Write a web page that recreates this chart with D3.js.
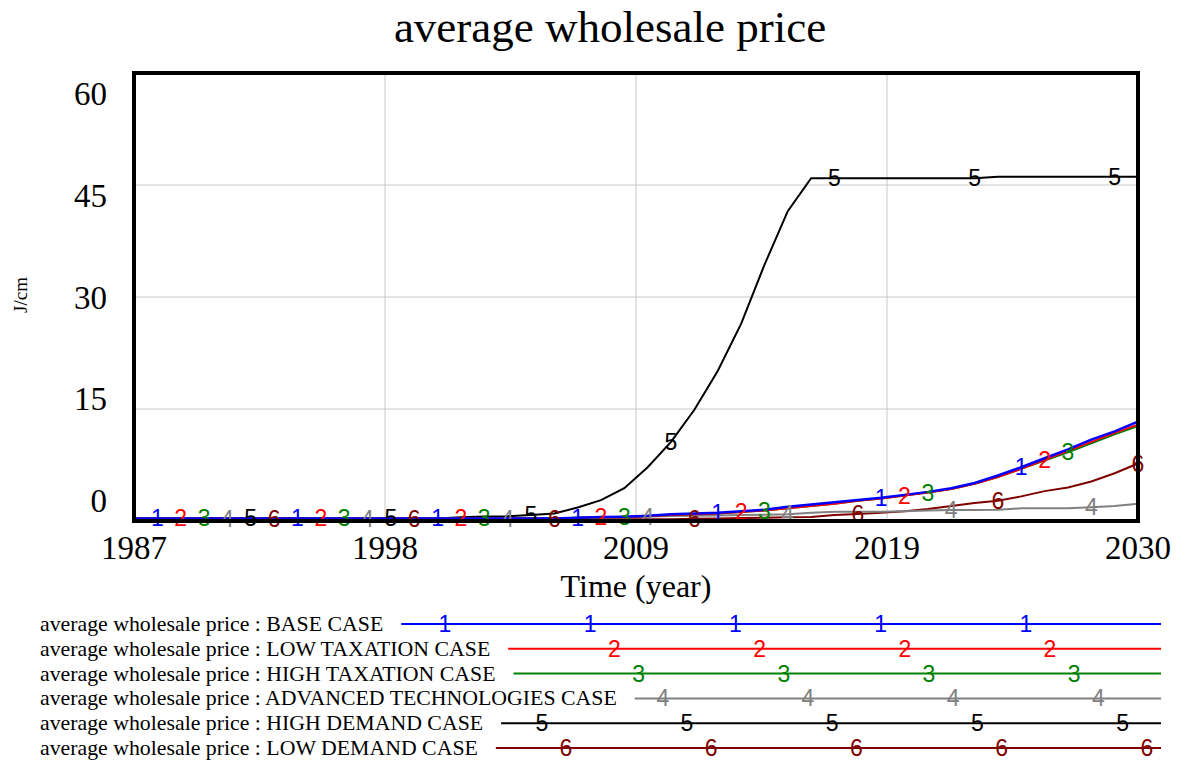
<!DOCTYPE html>
<html>
<head>
<meta charset="utf-8">
<script src="https://cdn.jsdelivr.net/npm/d3@7"></script>
<style>
  body { margin: 0; background: #fff; }
  svg { display: block; }
</style>
</head>
<body>
<div id="chart"></div>
<script>
// time axis (year) and one value list per scenario
var years = d3.range(1987, 2031);

var baseCase = [0.35, 0.35, 0.35, 0.35, 0.35, 0.35, 0.35, 0.35, 0.35, 0.35,
  0.35, 0.35, 0.35, 0.35, 0.35, 0.35, 0.35, 0.35, 0.35,
  0.45, 0.52, 0.58, 0.7, 0.9, 1.0, 1.1, 1.3, 1.5, 1.9,
  2.2, 2.5, 2.8, 3.1, 3.5, 3.9, 4.4, 5.1, 6.1, 7.2,
  8.4, 9.6, 10.9, 12.0, 13.3];
var lowTaxCase = [0.35, 0.35, 0.35, 0.35, 0.35, 0.35, 0.35, 0.35, 0.35, 0.35,
  0.35, 0.35, 0.35, 0.35, 0.35, 0.35, 0.35, 0.35, 0.35,
  0.42, 0.5, 0.55, 0.65, 0.8, 0.9, 1.0, 1.2, 1.4, 1.7,
  2.0, 2.3, 2.7, 3.0, 3.4, 3.8, 4.3, 5.0, 5.9, 7.0,
  8.2, 9.4, 10.6, 11.8, 12.9];
var highTaxCase = [0.35, 0.35, 0.35, 0.35, 0.35, 0.35, 0.35, 0.35, 0.35, 0.35,
  0.35, 0.35, 0.35, 0.35, 0.35, 0.35, 0.35, 0.35, 0.35,
  0.42, 0.5, 0.55, 0.65, 0.8, 0.9, 1.0, 1.2, 1.4, 1.7,
  2.0, 2.3, 2.7, 3.0, 3.4, 3.8, 4.3, 5.0, 5.9, 7.0,
  8.1, 9.2, 10.4, 11.6, 12.7];
var advTechCase = [0.3, 0.3, 0.3, 0.3, 0.3, 0.3, 0.3, 0.3, 0.3, 0.3,
  0.3, 0.3, 0.3, 0.3, 0.3, 0.3, 0.3, 0.3, 0.3,
  0.4, 0.47, 0.55, 0.6, 0.67, 0.7, 0.75, 0.8, 0.85, 0.9,
  1.1, 1.25, 1.25, 1.25, 1.3, 1.4, 1.48, 1.48, 1.5, 1.7,
  1.7, 1.7, 1.85, 2.0, 2.3];
var highDemandCase = [0.35, 0.35, 0.35, 0.35, 0.35, 0.35, 0.35, 0.35, 0.35, 0.35,
  0.35, 0.35, 0.35, 0.35, 0.5, 0.6, 0.65, 0.8, 1.0,
  1.8, 2.8, 4.4, 7.2, 10.6, 14.9, 20.1, 26.4, 34.3, 41.5,
  45.9, 45.9, 45.9, 45.9, 45.9, 45.9, 45.9, 45.9, 46.1, 46.1,
  46.1, 46.1, 46.1, 46.1, 46.1];
var lowDemandCase = [0.25, 0.25, 0.25, 0.25, 0.25, 0.25, 0.25, 0.25, 0.25, 0.25,
  0.25, 0.25, 0.25, 0.25, 0.25, 0.25, 0.25, 0.25, 0.25,
  0.25, 0.25, 0.25, 0.25, 0.25, 0.3, 0.35, 0.4, 0.45, 0.5,
  0.55, 0.8, 0.95, 1.1, 1.3, 1.6, 2.0, 2.4, 2.7, 3.3,
  4.0, 4.5, 5.3, 6.4, 7.7];

var seriesNames = ["BASE CASE", "LOW TAXATION CASE", "HIGH TAXATION CASE",
  "ADVANCED TECHNOLOGIES CASE", "HIGH DEMAND CASE", "LOW DEMAND CASE"];
var seriesValues = [baseCase, lowTaxCase, highTaxCase, advTechCase, highDemandCase, lowDemandCase];
var seriesColors = ["#0000ff", "#ff0000", "#008000", "#808080", "#000000", "#800000"];

var yTicks = [0, 15, 30, 45, 60];
var xTickLabels = ["1987", "1998", "2009", "2019", "2030"];

var width = 1179, height = 761;
var serif = "'Liberation Serif', 'Times New Roman', serif";
var sans = "'Liberation Sans', Arial, sans-serif";

var svg = d3.select("#chart")
    .append("svg")
    .attr("width", width)
    .attr("height", height);

var x = d3.scaleLinear().domain([1987, 2030]).range([134, 1138]);
var y = d3.scaleLinear().domain([0, 60]).range([521, 73]);
// vensim spreads the value labels over a slightly shorter span than the grid
var yLabel = d3.scaleLinear().domain([0, 60]).range([512, 105]);

// title
svg.append("text")
    .attr("x", 610)
    .attr("y", 42)
    .attr("text-anchor", "middle")
    .attr("font-family", serif)
    .attr("font-size", 45)
    .text("average wholesale price");

// grid lines
svg.append("g")
    .selectAll("line")
    .data(yTicks.slice(1, -1))
    .enter()
    .append("line")
    .attr("x1", x.range()[0]).attr("x2", x.range()[1])
    .attr("y1", function(d) { return y(d); })
    .attr("y2", function(d) { return y(d); })
    .attr("stroke", "#c8c8c8")
    .attr("stroke-width", 1);

var xGrid = d3.range(1, 4).map(function(i) { return 1987 + i * 43 / 4; });
svg.append("g")
    .selectAll("line")
    .data(xGrid)
    .enter()
    .append("line")
    .attr("x1", function(d) { return x(d); })
    .attr("x2", function(d) { return x(d); })
    .attr("y1", y.range()[1]).attr("y2", y.range()[0])
    .attr("stroke", "#c8c8c8")
    .attr("stroke-width", 1);

// y labels
svg.append("g")
    .selectAll("text")
    .data(yTicks)
    .enter()
    .append("text")
    .attr("x", 107)
    .attr("y", function(d) { return yLabel(d); })
    .attr("text-anchor", "end")
    .attr("font-family", serif)
    .attr("font-size", 33)
    .text(function(d) { return d; });

// x labels: 4 equal divisions of the time span
svg.append("g")
    .selectAll("text")
    .data(xTickLabels)
    .enter()
    .append("text")
    .attr("x", function(d, i) { return x(1987 + i * 43 / 4); })
    .attr("y", 559)
    .attr("text-anchor", "middle")
    .attr("font-family", serif)
    .attr("font-size", 33)
    .text(function(d) { return d; });

svg.append("text")
    .attr("x", 636)
    .attr("y", 597)
    .attr("text-anchor", "middle")
    .attr("font-family", serif)
    .attr("font-size", 32)
    .text("Time (year)");

svg.append("text")
    .attr("transform", "translate(27,295) rotate(-90)")
    .attr("text-anchor", "middle")
    .attr("font-family", serif)
    .attr("font-size", 19)
    .text("J/cm");

// lines, drawn last series first so BASE CASE ends on top
var line = d3.line()
    .x(function(d, i) { return x(years[i]); })
    .y(function(d) { return y(d); });

var order = [5, 4, 3, 2, 1, 0];
svg.append("g")
    .selectAll("path")
    .data(order)
    .enter()
    .append("path")
    .attr("d", function(s) { return line(seriesValues[s]); })
    .attr("fill", "none")
    .attr("stroke", function(s) { return seriesColors[s]; })
    .attr("stroke-width", function(s) { return s == 0 ? 2.5 : 2; });

// number markers along the curves, one year slot each, cycling through series
var markerYears = years.filter(function(yr) { return yr > 1987 && yr !== 2016; });
var marks = markerYears.map(function(yr, k) {
  var s = k % 6;
  return { s: s, year: yr, v: seriesValues[s][years.indexOf(yr)] };
});

svg.append("g")
    .selectAll("text")
    .data(marks)
    .enter()
    .append("text")
    .attr("x", function(d) { return x(d.year); })
    .attr("y", function(d) { return y(d.v) + 8; })
    .attr("text-anchor", "middle")
    .attr("font-family", sans)
    .attr("font-size", 23)
    .attr("fill", function(d) { return seriesColors[d.s]; })
    .text(function(d) { return d.s + 1; });

// frame
svg.append("rect")
    .attr("x", x.range()[0])
    .attr("y", y.range()[1])
    .attr("width", x.range()[1] - x.range()[0])
    .attr("height", y.range()[0] - y.range()[1])
    .attr("fill", "none")
    .attr("stroke", "#000")
    .attr("stroke-width", 4);

// legend
var legendTop = 624, legendStep = 24.8, legendEnd = 1161;
var legendMarkStart = 445, legendMarkStep = 24.2;

seriesNames.forEach(function(name, i) {
  var ly = legendTop + i * legendStep;
  var t = svg.append("text")
      .attr("x", 40)
      .attr("y", ly + 7)
      .attr("font-family", serif)
      .attr("font-size", 21.8)
      .text("average wholesale price : " + name);
  var start = 40 + t.node().getComputedTextLength() + 18;

  svg.append("line")
      .attr("x1", start).attr("x2", legendEnd)
      .attr("y1", ly).attr("y2", ly)
      .attr("stroke", seriesColors[i])
      .attr("stroke-width", 2);

  var slots = d3.range(0, 30)
      .filter(function(k) { return k % 6 == i; })
      .map(function(k) { return legendMarkStart + k * legendMarkStep; })
      .filter(function(px) { return px > start + 8 && px < legendEnd; });

  svg.append("g")
      .selectAll("text")
      .data(slots)
      .enter()
      .append("text")
      .attr("x", function(d) { return d; })
      .attr("y", ly + 8)
      .attr("text-anchor", "middle")
      .attr("font-family", sans)
      .attr("font-size", 23)
      .attr("fill", seriesColors[i])
      .text(i + 1);
});
</script>
</body>
</html>
